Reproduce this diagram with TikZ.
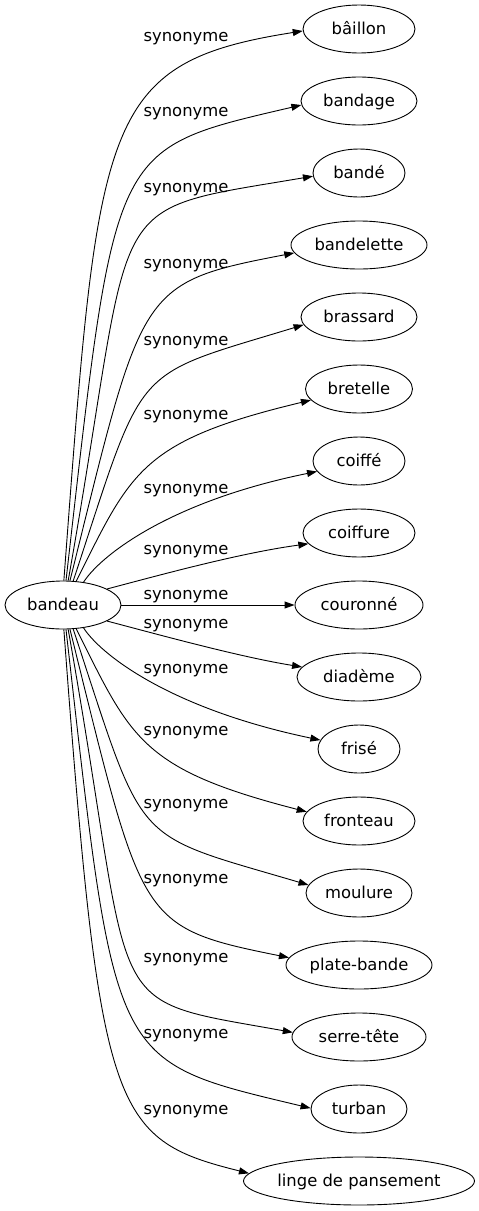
\documentclass[tikz,border=0pt]{standalone}
\usepackage{fontspec}
\setmainfont{DejaVu Sans}
\usetikzlibrary{arrows.meta,shapes.geometric}
\begin{document}
\begin{tikzpicture}[x=1pt,y=-1pt,
  ent/.style={draw, ellipse, line width=0.9pt, inner sep=0pt, minimum height=48pt,
    font=\fontsize{16.4}{19}\selectfont, text height=13.4pt, text depth=2pt},
  lbl/.style={inner sep=0pt, font=\fontsize{16.4}{19}\selectfont, text height=13.4pt, text depth=2pt},
  syn/.style={draw, line width=0.9pt, -{Triangle[length=10pt,width=7pt]}}]
\useasboundingbox (0,0) rectangle (479,1211);

% nodes
\node[ent, minimum width=116pt] (bandeau) at (63,605) {bandeau};
\node[ent, minimum width=112pt] (baillon) at (359,29) {bâillon};
\node[ent, minimum width=116pt] (bandage) at (359,101) {bandage};
\node[ent, minimum width=92pt] (bande) at (359,173) {bandé};
\node[ent, minimum width=136pt] (bandelette) at (359,245) {bandelette};
\node[ent, minimum width=116pt] (brassard) at (359,317) {brassard};
\node[ent, minimum width=107pt] (bretelle) at (359,389) {bretelle};
\node[ent, minimum width=92pt] (coiffe) at (359,461) {coiffé};
\node[ent, minimum width=112pt] (coiffure) at (359,533) {coiffure};
\node[ent, minimum width=128pt] (couronne) at (359,605) {couronné};
\node[ent, minimum width=124pt] (diademe) at (359,677) {diadème};
\node[ent, minimum width=82pt] (frise) at (359,749) {frisé};
\node[ent, minimum width=112pt] (fronteau) at (359,821) {fronteau};
\node[ent, minimum width=106pt] (moulure) at (359,893) {moulure};
\node[ent, minimum width=146pt] (platebande) at (359,965) {plate-bande};
\node[ent, minimum width=134pt] (serretete) at (359,1037) {serre-tête};
\node[ent, minimum width=96pt] (turban) at (359,1109) {turban};
\node[ent, minimum width=228pt] (linge) at (359,1181) {linge de pansement};

% labels
\node[lbl] (l1) at (186,36) {synonyme};
\node[lbl] (l2) at (186,111) {synonyme};
\node[lbl] (l3) at (186,187) {synonyme};
\node[lbl] (l4) at (186,263) {synonyme};
\node[lbl] (l5) at (186,340) {synonyme};
\node[lbl] (l6) at (186,414) {synonyme};
\node[lbl] (l7) at (186,488) {synonyme};
\node[lbl] (l8) at (186,549) {synonyme};
\node[lbl] (l9) at (186,594) {synonyme};
\node[lbl] (l10) at (186,623) {synonyme};
\node[lbl] (l11) at (186,668) {synonyme};
\node[lbl] (l12) at (186,730) {synonyme};
\node[lbl] (l13) at (186,803) {synonyme};
\node[lbl] (l14) at (186,878) {synonyme};
\node[lbl] (l15) at (186,957) {synonyme};
\node[lbl] (l16) at (186,1033) {synonyme};
\node[lbl] (l17) at (186,1109) {synonyme};

% edges
\draw[syn] (bandeau.88) .. controls (98.5,120) and (99,63) .. (baillon.182);
\draw[syn] (bandeau.83) .. controls (116,142) and (109,150) .. (bandage.184);
\draw[syn] (bandeau.78) .. controls (138,188) and (95,213) .. (bande.184);
\draw[syn] (bandeau.74) .. controls (143,287) and (137,283) .. (bandelette.187);
\draw[syn] (bandeau.67) .. controls (146,360) and (129,378) .. (brassard.188);
\draw[syn] (bandeau.61) .. controls (131,472) and (140,441) .. (bretelle.193);
\draw[syn] (bandeau.48) .. controls (99.5,557) and (167,502) .. (coiffe.194);
\draw[syn] (bandeau.20) .. controls (160,575) and (240,553) .. (coiffure.192);
\draw[syn] (bandeau.0) -- (couronne.180);
\draw[syn] (bandeau.-20) .. controls (160,635) and (240,657) .. (diademe.170);
\draw[syn] (bandeau.-48) .. controls (99.5,653) and (167,708) .. (frise.167);
\draw[syn] (bandeau.-61) .. controls (131,738) and (140,769) .. (fronteau.170);
\draw[syn] (bandeau.-67) .. controls (146,850) and (129,832) .. (moulure.171);
\draw[syn] (bandeau.-74) .. controls (143,923) and (137,927) .. (platebande.174);
\draw[syn] (bandeau.-78) .. controls (138,1022) and (95,997) .. (serretete.176);
\draw[syn] (bandeau.-83) .. controls (116,1068) and (109,1060) .. (turban.179);
\draw[syn] (bandeau.-88) .. controls (100,1114) and (111,1139) .. (linge.176);
\end{tikzpicture}
\end{document}
